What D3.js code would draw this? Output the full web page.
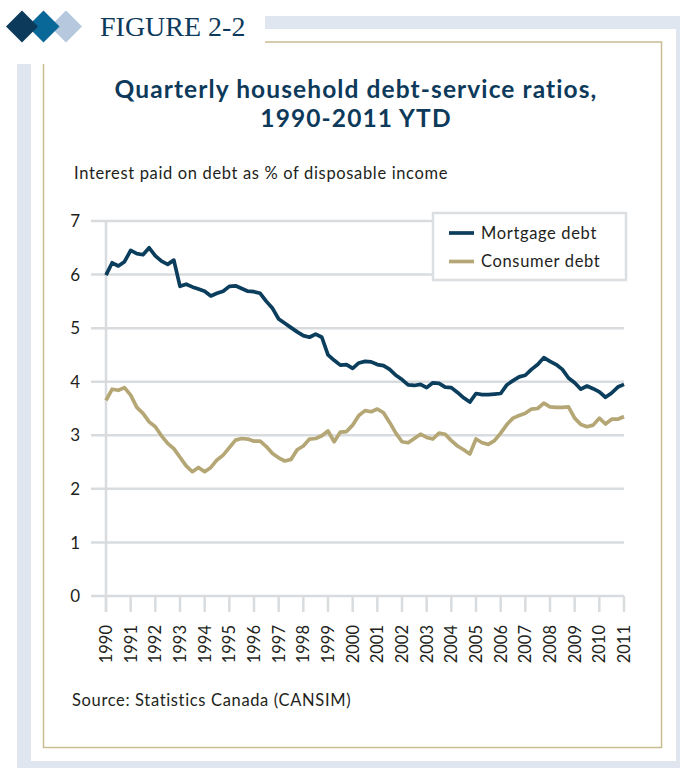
<!DOCTYPE html>
<html>
<head>
<meta charset="utf-8">
<script src="https://cdn.jsdelivr.net/npm/d3@7"></script>
<style>
  html, body { margin: 0; padding: 0; background: #ffffff; }
  svg { display: block; }
  text { font-family: Lato, "Open Sans", sans-serif; }
</style>
</head>
<body>
<div id="chart"></div>
<script>
// ---- data ----
const startYear = 1990;
const mortgage = [
  5.99, 6.22, 6.16, 6.24, 6.45, 6.39, 6.37, 6.50, 6.35, 6.25, 6.19, 6.27,
  5.78, 5.82, 5.77, 5.73, 5.69, 5.60, 5.65, 5.69, 5.78, 5.79, 5.74, 5.69,
  5.68, 5.65, 5.50, 5.37, 5.17, 5.09, 5.01, 4.93, 4.86, 4.83, 4.89, 4.83,
  4.50, 4.40, 4.31, 4.32, 4.25, 4.35, 4.38, 4.37, 4.32, 4.30, 4.23, 4.12,
  4.04, 3.94, 3.93, 3.95, 3.89, 3.98, 3.97, 3.90, 3.89, 3.80, 3.70, 3.62,
  3.78, 3.76, 3.76, 3.77, 3.78, 3.94, 4.02, 4.09, 4.12, 4.23, 4.32, 4.45,
  4.38, 4.32, 4.23, 4.07, 3.98, 3.86, 3.92, 3.87, 3.81, 3.71, 3.79, 3.90,
  3.95
];
const consumer = [
  3.65, 3.86, 3.84, 3.89, 3.75, 3.52, 3.41, 3.25, 3.16, 2.99, 2.85, 2.75,
  2.59, 2.43, 2.32, 2.40, 2.32, 2.40, 2.54, 2.63, 2.77, 2.91, 2.94, 2.93,
  2.89, 2.89, 2.79, 2.66, 2.58, 2.52, 2.55, 2.73, 2.80, 2.93, 2.94, 2.99,
  3.08, 2.88, 3.06, 3.07, 3.19, 3.37, 3.46, 3.44, 3.49, 3.42, 3.24, 3.04,
  2.88, 2.86, 2.94, 3.02, 2.96, 2.93, 3.04, 3.02, 2.90, 2.80, 2.73, 2.65,
  2.93, 2.86, 2.83, 2.90, 3.04, 3.20, 3.32, 3.37, 3.41, 3.49, 3.50, 3.60,
  3.53, 3.52, 3.52, 3.53, 3.32, 3.20, 3.16, 3.19, 3.32, 3.21, 3.30, 3.30,
  3.35
];
const quarters = mortgage.map((_, i) => startYear + i / 4);
const xTickYears = d3.range(1990, 2012);
const yTicks = [0, 1, 2, 3, 4, 5, 6, 7];
const seriesNames = ["Mortgage debt", "Consumer debt"];
const seriesColors = ["#0b3d5c", "#b5a775"];

const figureLabel = "FIGURE 2-2";
const titleLines = ["Quarterly household debt-service ratios,", "1990-2011 YTD"];
const subtitle = "Interest paid on debt as % of disposable income";
const source = "Source: Statistics Canada (CANSIM)";

// ---- drawing ----
const W = 680, H = 768;
const svg = d3.select("#chart").append("svg").attr("width", W).attr("height", H);

svg.append("rect").attr("x", 0).attr("y", 0).attr("width", W).attr("height", H).attr("fill", "#fff");
// light-blue outer frame
svg.append("rect").attr("x", 17).attr("y", 16).attr("width", W).attr("height", H).attr("fill", "#dfe6f0");
svg.append("rect").attr("x", 31).attr("y", 29).attr("width", 645).attr("height", 732).attr("fill", "#fff");
// tan frame
svg.append("rect").attr("x", 43.5).attr("y", 42).attr("width", 618).attr("height", 705.5)
  .attr("fill", "none").attr("stroke", "#c8bc93").attr("stroke-width", 1.5);
// header mask
svg.append("rect").attr("x", 0).attr("y", 0).attr("width", 265).attr("height", 64).attr("fill", "#fff");

// diamonds
const diamonds = [
  { cx: 66, color: "#b5c8dd" },
  { cx: 43.5, color: "#0a6898" },
  { cx: 22, color: "#0b3a5a" }
];
diamonds.forEach(d => {
  const cy = 26.5, r = 16;
  svg.append("path")
    .attr("d", `M${d.cx},${cy - r}L${d.cx + r},${cy}L${d.cx},${cy + r}L${d.cx - r},${cy}Z`)
    .attr("fill", d.color);
});
svg.append("text").attr("x", 100).attr("y", 36)
  .style("font-family", "'Liberation Serif', 'DejaVu Serif', serif")
  .style("font-size", "28px").attr("fill", "#0d3a5a")
  .text(figureLabel);

// title
const title = svg.append("text").attr("text-anchor", "middle")
  .style("font-size", "24.5px").style("font-weight", "bold")
  .style("letter-spacing", "1.1px").attr("fill", "#0d3a5a");
titleLines.forEach((t, i) => {
  title.append("tspan").attr("x", 356).attr("y", 98 + i * 29).text(t);
});

const bodyStyle = sel => sel.style("font-size", "16.5px").style("letter-spacing", "0.65px").attr("fill", "#231f20");

svg.append("text").attr("x", 74).attr("y", 179).call(bodyStyle).text(subtitle);

// scales
const x = d3.scaleLinear().domain([1990, 2011]).range([106, 624]);
const y = d3.scaleLinear().domain([0, 7]).range([596, 221]);
const gridColor = "#d9dcdf";

// gridlines
svg.append("g").selectAll("line").data(yTicks).join("line")
  .attr("x1", 91).attr("x2", 624)
  .attr("y1", d => y(d)).attr("y2", d => y(d))
  .attr("stroke", gridColor).attr("stroke-width", 2.5);
// y axis line
svg.append("line").attr("x1", x(1990)).attr("x2", x(1990))
  .attr("y1", y(7) - 1).attr("y2", y(0) + 16)
  .attr("stroke", gridColor).attr("stroke-width", 2.5);
// x ticks
svg.append("g").selectAll("line").data(xTickYears).join("line")
  .attr("x1", d => x(d)).attr("x2", d => x(d))
  .attr("y1", y(0)).attr("y2", y(0) + 16)
  .attr("stroke", gridColor).attr("stroke-width", 2.5);

// y labels
svg.append("g").selectAll("text").data(yTicks).join("text")
  .attr("x", 80).attr("y", d => y(d)).attr("dy", "0.36em")
  .attr("text-anchor", "end").style("font-size", "17px").attr("fill", "#231f20")
  .text(d => d);
// x labels
svg.append("g").selectAll("text").data(xTickYears).join("text")
  .attr("transform", d => `translate(${x(d)},625) rotate(-90)`)
  .attr("dy", "0.36em").attr("text-anchor", "end")
  .style("font-size", "16.5px").attr("fill", "#231f20")
  .text(d => d);

// lines
const line = d3.line().x((d, i) => x(quarters[i])).y(d => y(d));
[consumer, mortgage].forEach((s, k) => {
  svg.append("path").datum(s).attr("d", line)
    .attr("fill", "none").attr("stroke", seriesColors[1 - k])
    .attr("stroke-width", 3.7).attr("stroke-linejoin", "round");
});

// legend
const lg = svg.append("g");
lg.append("rect").attr("x", 433).attr("y", 213).attr("width", 193).attr("height", 67)
  .attr("fill", "#fff").attr("stroke", "#dcdfe1").attr("stroke-width", 2.5);
seriesNames.forEach((n, i) => {
  const ly = 233 + i * 28.5;
  lg.append("line").attr("x1", 449).attr("x2", 474).attr("y1", ly).attr("y2", ly)
    .attr("stroke", seriesColors[i]).attr("stroke-width", 3.7);
  lg.append("text").attr("x", 481).attr("y", ly).attr("dy", "0.35em")
    .call(bodyStyle).text(n);
});

svg.append("text").attr("x", 72).attr("y", 706).call(bodyStyle).text(source);
</script>
</body>
</html>
